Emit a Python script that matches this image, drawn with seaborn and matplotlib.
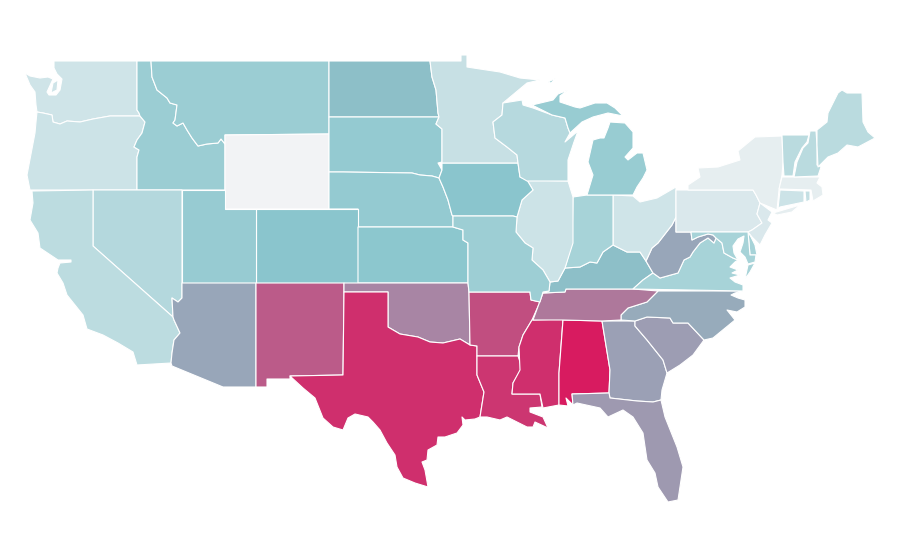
import matplotlib
matplotlib.use("Agg")
import matplotlib.pyplot as plt
from matplotlib.collections import PolyCollection
import seaborn as sns

sns.set_theme(style="white")

STATE_VALUES = {
    "WA": 17, "OR": 18, "CA": 26, "NV": 30, "ID": 42, "MT": 42, "WY": 0, "UT": 44, "CO": 50, "AZ": 59, "NM": 81,
    "ND": 52, "SD": 45, "NE": 45, "KS": 49, "OK": 69, "TX": 94, "MN": 21, "IA": 50, "MO": 41, "AR": 85, "LA": 92,
    "WI": 29, "IL": 18, "MS": 94, "MI": 43, "IN": 36, "KY": 52, "TN": 73, "AL": 100, "OH": 17, "WV": 59, "VA": 36,
    "NC": 58, "SC": 62, "GA": 61, "FL": 63, "PA": 12, "NY": 6, "NJ": 12, "DE": 36, "MD": 36, "CT": 18, "RI": 22,
    "MA": 6, "VT": 27, "NH": 27, "ME": 27,
}

RIVER_WA_OR = [(140,116),(110,116),(93,119),(80,122),(67,121),(60,124),(53,122),(52,115),(43,113),(37,112)]
SNAKE = [(140,116),(145,122),(142,133),(137,140),(134,147),(139,150),(137,157),(137,190)]
ID_MT = [(151,61),(152,77),(157,90),(167,98),(170,103),(177,105),(175,120),(173,123),(177,126),(183,123),(187,130),
         (192,138),(198,146),(207,144),(218,143),(221,139),(225,144)]
SD_NE = [(329,172),(343,172),(412,173),(420,175),(432,176),(439,178)]
MO_W = [(453,227),(463,230),(463,240),(468,243),(468,283),(469,292)]
NE_IA = [(439,178),(443,187),(448,200),(452,215),(453,216)]
RED = [(388,327),(400,334),(418,337),(430,342),(443,343),(460,339),(470,345)]
MISS_LOW = [(533,320),(532,320),(523,335),(519,347),(518,356)]
SC_GA = [(635,326),(647,340),(663,360),(667,373)]
TN_NC = [(658,291),(647,302),(628,308),(621,315),(621,320)]
KY_N = [(565,268),(580,267),(590,262),(597,263),(603,252),(613,245)]
OH_KY = [(613,245),(627,252),(640,252),(646,261)]
IL_W = [(527,180),(533,190),(522,200),(517,217)]
IL_SW = [(517,217),(516,232),(525,243),(533,248),(532,260),(543,270),(550,282),(549,291)]
MN_E = [(518,163),(517,155),(507,147),(495,138),(493,122),(502,115),(503,103)]
VA_WV = [(708,238),(700,243),(693,252),(690,257),(684,260),(678,273),(660,278),(653,273)]
POTOMAC = [(716,238),(722,243),(724,253),(733,258),(738,260)]
PA_NJ = [(753,190),(756,195),(760,203),(757,214),(762,223),(752,230),(748,232)]

STATE_SHAPES = {
    "WA": [[(54,61),(137,61),(137,110),(139,113)] + RIVER_WA_OR +
           [(36,105),(35,92),(30,85),(25,73),(30,76),(40,78),(48,77),(53,79),(47,92),(49,95),(56,95),(60,90),(62,79),
            (57,74),(54,68)],
           [(53,83),(58,80),(57,90),(51,93)]],
    "OR": [RIVER_WA_OR[::-1] + SNAKE[1:] + [(30,190),(27,175),(35,133),(36,122)]],
    "ID": [[(137,61)] + ID_MT + [(225,190),(137,190)] + SNAKE[::-1][1:] + [(139,113),(137,110)]],
    "MT": [ID_MT + [(225,135),(329,134),(329,61)]],
    "WY": [[(225,135),(329,134),(329,209),(225,209)]],
    "ND": [[(329,61),(430,61),(432,77),(436,90),(438,113),(439,117),(329,117)]],
    "SD": [[(329,117),(439,117),(436,124),(442,129),(442,162),(438,163),(442,170)] + SD_NE[::-1]],
    "NE": [SD_NE + NE_IA[1:] + [(453,227),(358,227),(358,209),(329,209)]],
    "CO": [[(256,209),(358,209),(358,283),(256,283)]],
    "KS": [[(358,227)] + MO_W[:-1] + [(358,283)]],
    "UT": [[(182,190),(225,190),(225,209),(256,209),(256,283),(182,283)]],
    "NV": [[(93,190),(182,190),(182,298),(178,302),(172,298),(173,317),(93,246)]],
    "CA": [[(32,191),(93,190),(93,246),(173,317),(174,320),(180,333),(174,340),(172,353),(171,363),(137,365),(133,352),
            (118,343),(103,335),(87,329),(83,315),(67,295),(63,283),(57,273),(58,268),(60,263),(71,262),(71,260),(58,260),
            (40,248),(38,233),(30,220),(33,203)]],
    "AZ": [[(182,283),(256,283),(256,387),(223,387),(172,366),(171,363),(172,353),(174,340),(180,333),(174,320),(173,317),
            (172,298),(178,302),(182,298)]],
    "NM": [[(256,283),(344,283),(344,292),(343,375),(290,376),(290,379),(267,379),(267,387),(256,387)]],
    "OK": [[(344,283),(468,283),(469,292),(470,345)] + RED[::-1] + [(388,292),(344,292)]],
    "TX": [[(344,292),(388,292)] + RED + [(477,346),(477,375),(484,392),(480,417),(475,419),(465,420),(462,417),(463,425),
            (457,433),(445,437),(438,437),(437,445),(428,450),(427,460),(422,462),(425,470),(428,487),(415,483),(403,478),
            (397,467),(395,455),(387,443),(380,430),(373,422),(368,417),(355,414),(348,418),(343,430),(333,427),(323,418),
            (319,408),(315,398),(303,388),(290,376),(343,375)]],
    "AR": [[(469,292),(530,292),(531,300),(540,302)] + MISS_LOW[1:] + [(477,356),(477,346),(470,345)]],
    "LA": [[(477,356),(518,356),(522,368),(513,383),(512,394),(540,394),(542,407),(530,408),(530,412),(543,417),(548,428),
            (535,422),(533,427),(527,427),(513,420),(507,417),(500,420),(487,417),(480,417),(484,392),(477,375)]],
    "MS": [MISS_LOW[:-1] + [(520,370),(513,383),(512,394),(540,394),(543,408),(559,405),(559,373),(563,319)]],
    "AL": [[(563,320),(602,321),(610,370),(609,393),(572,394),(573,405),(566,398),(568,406),(559,405),(559,373)]],
    "GA": [[(602,321),(635,321)] + SC_GA + [(662,390),(661,400),(653,402),(637,401),(610,398),(609,393),(610,370)]],
    "FL": [[(572,394),(609,393),(610,398),(637,401),(653,402),(661,400),(665,417),(677,447),(683,467),(678,500),(668,502),
            (658,487),(655,473),(647,460),(643,433),(633,417),(623,410),(608,417),(600,408),(577,403),(573,405)]],
    "SC": [[(635,321),(647,317),(670,318),(673,323),(688,323),(704,340),(693,355),(680,365),(667,373)] + SC_GA[::-1][1:]],
    "NC": [[(658,291),(743,291),(735,293),(731,295),(738,298),(745,300),(745,307),(737,312),(727,310),(735,320),(713,338),
            (704,340),(688,323),(673,323),(670,318),(647,317),(635,321)] + TN_NC[::-1]],
    "TN": [[(533,320),(543,293),(565,292),(566,289),(633,289)] + TN_NC + [(602,321),(563,320)]],
    "KY": [[(549,291),(550,282),(558,281)] + KY_N + OH_KY[1:] + [(653,273),(643,280),(633,289),(566,289),(565,292),(543,293)]],
    "VA": [[(633,289),(643,280),(653,273)] + VA_WV[::-1] + [(714,243)] + POTOMAC +
           [(735,262),(730,267),(738,270),(732,273),(740,275),(730,278),(735,282),(743,285),(743,291)],
           [(748,265),(755,263),(750,272),(745,279)]],
    "WV": [[(676,217),(676,232),(691,232),(692,240),(698,237),(708,234),(713,235),(716,238),(714,243)] + VA_WV +
           [(646,261),(652,248),(658,243),(672,225)]],
    "OH": [[(613,195),(633,196),(640,202),(657,198),(676,187),(676,217),(672,225),(658,243),(652,248)] + OH_KY[::-1]],
    "IN": [[(573,197),(587,195),(613,195),(613,245)] + KY_N[::-1] + [(572,243)]],
    "IL": [[(527,180),(568,181),(573,197),(573,243),(565,268),(558,281),(550,282)] + IL_SW[::-1][2:] + IL_W[::-1][:-1]],
    "IA": [[(442,163),(518,163),(520,177)] + IL_W + [(513,216)] + NE_IA[::-1] + [(442,170)]],
    "MO": [[(453,216),(513,216)] + IL_SW + [(543,292),(540,302),(531,300),(530,292)] + MO_W[::-1]],
    "MN": [[(430,61),(461,61),(461,55),(467,55),(467,67),(480,69),(500,72),(520,78),(540,80),(527,83)] + MN_E[::-1] +
           [(442,163),(442,129),(436,124),(439,117),(438,113),(436,90),(432,77)]],
    "WI": [MN_E + [(522,100),(523,105),(533,108),(552,115),(565,118),(568,128),(570,133),(565,142),(578,131),(574,142),
            (568,160),(568,181),(527,181),(520,177)]],
    "MI": [[(532,105),(553,100),(558,94),(568,90),(560,96),(560,102),(575,107),(580,108),(595,103),(607,103),(615,108),
            (623,116),(608,113),(593,117),(582,122),(570,133),(568,128),(565,118),(552,115)],
           [(587,195),(633,195),(637,187),(643,178),(647,170),(643,153),(637,153),(628,160),(625,157),(633,148),(633,132),
            (625,123),(610,122),(608,128),(604,138),(600,138),(593,140),(588,162),(593,175)],
           [(548,82),(556,78),(551,83)]],
    "PA": [[(676,190)] + PA_NJ + [(676,232)]],
    "NY": [[(688,190),(688,185),(700,177),(698,168),(718,167),(740,160),(738,151),(755,137),(782,136),(783,162),(782,175),
            (779,190),(777,210),(760,203),(756,195),(753,190)],
           [(773,213),(800,205),(792,212),(777,215)]],
    "NJ": [[(760,203),(772,212),(768,220),(772,223),(765,235),(760,245),(752,237),(748,232),(752,230),(762,223),(757,214)]],
    "DE": [[(748,232),(751,237),(755,245),(757,255),(750,255)]],
    "MD": [[(691,232),(748,232),(750,255),(756,255),(755,262),(748,264),(745,257),(740,252),(743,243),(744,236),(738,239),
            (733,246),(734,253),(738,260),(733,258),(724,253),(722,243),(716,238),(713,235),(708,234),(698,237),(692,240)]],
    "CT": [[(780,190),(804,191),(804,202),(780,207),(778,209)]],
    "RI": [[(805,191),(810,191),(810,200),(806,202)]],
    "MA": [[(782,177),(820,177),(817,183),(822,187),(823,195),(813,201),(811,190),(779,189)]],
    "VT": [[(782,135),(809,135),(807,142),(802,148),(795,162),(793,176),(784,176),(783,162)]],
    "NH": [[(810,131),(816,131),(817,145),(817,165),(821,167),(818,176),(794,177),(797,162),(803,148),(808,143)]],
    "ME": [[(817,130),(827,122),(828,113),(838,93),(842,90),(847,93),(862,93),(863,122),(868,132),(875,138),(858,147),(847,145),
            (838,153),(828,157),(818,167),(817,145)]],
}

cmap = sns.blend_palette(["#f2f3f5", "#8ac6cd", "#d81b60"], as_cmap=True)

polys, vals = [], []
for state, parts in STATE_SHAPES.items():
    for part in parts:
        polys.append(part)
        vals.append(STATE_VALUES[state])

fig = plt.figure(figsize=(9, 5.6), dpi=100, facecolor="white")
ax = fig.add_axes([0, 0, 1, 1])
coll = PolyCollection(polys, array=vals, cmap=cmap, clim=(0, 100), edgecolors="white", linewidths=0.8)
ax.add_collection(coll)
ax.set_xlim(0, 900)
ax.set_ylim(560, 0)
ax.axis("off")
fig.savefig("out.png", dpi=100, facecolor="white")
